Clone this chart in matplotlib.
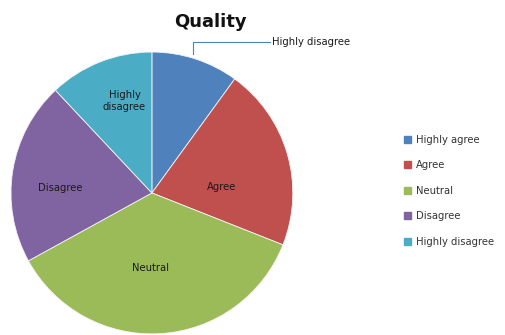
import numpy as np
import matplotlib.pyplot as plt
from matplotlib.lines import Line2D

# Survey responses on quality (percent)
categories = ['Highly agree', 'Agree', 'Neutral', 'Disagree', 'Highly disagree']
values = [10, 21, 36, 21, 12]
slice_labels = ['', 'Agree', 'Neutral', 'Disagree', 'Highly\ndisagree']
callout_label = 'Highly disagree'
colors = ['#4F81BD', '#C0504D', '#9BBB59', '#8064A2', '#4BACC6']

fig = plt.figure(figsize=(5.06, 3.35), dpi=100)
ax = fig.add_axes([0.0217, 0.003, 0.557, 0.842])

wedges, _ = ax.pie(values, colors=colors, startangle=90, counterclock=False,
                   radius=1.0, wedgeprops=dict(linewidth=0.6, edgecolor='#f4f4f4'))
ax.set_xlim(-1, 1)
ax.set_ylim(-1, 1)
ax.set_aspect('equal')
ax.axis('off')

# labels inside the slices (radius fraction, angle nudge in degrees)
label_place = [(0.0, 0), (0.5, -11), (0.53, -5), (0.65, 6), (0.68, -5)]
for w, lab, (r, nudge) in zip(wedges, slice_labels, label_place):
    if not lab:
        continue
    mid = np.deg2rad((w.theta1 + w.theta2) / 2 + nudge)
    ax.text(r * np.cos(mid), r * np.sin(mid), lab, ha='center', va='center',
            fontsize=7.2, color='#1a1a1a', linespacing=1.3)

# callout with leader line for the first slice
w0 = wedges[0]
a = np.deg2rad(w0.theta1 + (w0.theta2 - w0.theta1) * 0.53)
x0, y0 = np.cos(a), np.sin(a)
ax.add_line(Line2D([x0, x0, x0 + 0.547], [y0 + 0.03, y0 + 0.115, y0 + 0.115],
                   color='#4F81BD', lw=0.8, clip_on=False))
ax.text(x0 + 0.56, y0 + 0.115, callout_label, ha='left', va='center',
        fontsize=7.2, color='#1a1a1a', clip_on=False)

fig.text(0.415, 0.935, 'Quality', ha='center', va='center',
         fontsize=13, fontweight='bold', color='#111111')

handles = [plt.Rectangle((0, 0), 1, 1, color=c) for c in colors]
fig.legend(handles, categories, loc='center left', bbox_to_anchor=(0.78, 0.43),
           frameon=False, fontsize=7.2, handlelength=0.7, handleheight=0.7,
           handletextpad=0.5, labelspacing=1.55, labelcolor='#333333')

fig.savefig('out.png', dpi=100)
